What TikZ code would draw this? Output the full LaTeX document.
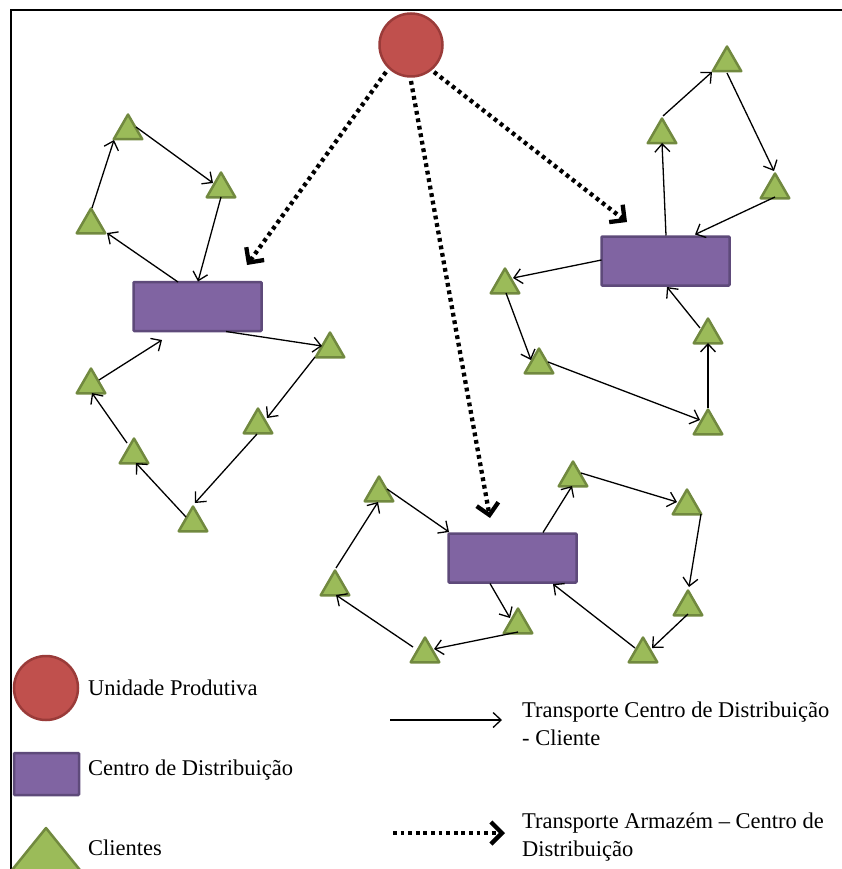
\documentclass[tikz,border=0pt]{standalone}
\usepackage{fontspec}
\setmainfont{Liberation Serif}
\usetikzlibrary{shapes.geometric,arrows.meta,calc}
\definecolor{pufill}{HTML}{C0504D}
\definecolor{puline}{HTML}{9A3B39}
\definecolor{cdfill}{HTML}{8064A2}
\definecolor{cdline}{HTML}{5E4A7A}
\definecolor{clfill}{HTML}{9BBB59}
\definecolor{clline}{HTML}{71893F}
\tikzset{
  pu/.style={circle, fill=pufill, draw=puline, line width=2.5pt, minimum size=63pt, inner sep=0pt},
  cd/.style={rectangle, fill=cdfill, draw=cdline, line width=2.5pt, minimum width=128pt, minimum height=49pt, inner sep=0pt, rounded corners=1pt},
  cl/.style={regular polygon, regular polygon sides=3, fill=clfill, draw=clline, line width=2.5pt, minimum size=33pt, inner sep=0pt, line join=round},
  tr/.style={line width=1.3pt, -{Straight Barb[length=8pt,width=15pt]}},
  arm/.style={line width=4.3pt, dash pattern=on 3.8pt off 3.8pt, -{Straight Barb[length=11pt,width=22pt]}},
  lbl/.style={anchor=west, inner sep=0pt, font=\fontsize{22.5}{28}\selectfont, align=left}
}
\begin{document}
\begin{tikzpicture}[x=1pt,y=-1pt]
\useasboundingbox (0,0) rectangle (841,869);
% frame
\draw[line width=2pt] (11,872) -- (11,10) -- (845,10);

% production unit
\node[pu] (pu) at (411,45) {};

% distribution centres
\node[cd] (lcd) at (197.5,306.5) {};
\node[cd] (rcd) at (665.5,261) {};
\node[cd] (bcd) at (512.5,558) {};

% left clients
\node[cl] (t1) at (128,131) {};
\node[cl] (t2) at (221,189) {};
\node[cl] (t3) at (91,225) {};
\node[cl] (t4) at (330,349) {};
\node[cl] (t5) at (91,385) {};
\node[cl] (t6) at (258,425) {};
\node[cl] (t7) at (134,455) {};
\node[cl] (t8) at (193,523) {};

% right clients
\node[cl] (r1) at (727,63) {};
\node[cl] (r2) at (662,135) {};
\node[cl] (r3) at (775,190) {};
\node[cl] (r4) at (505,285) {};
\node[cl] (r5) at (539,365) {};
\node[cl] (r6) at (708,335) {};
\node[cl] (r7) at (708,426) {};

% bottom clients
\node[cl] (b1) at (379,493) {};
\node[cl] (b2) at (335,587) {};
\node[cl] (b3) at (425,654) {};
\node[cl] (b4) at (518,625) {};
\node[cl] (b5) at (573,478) {};
\node[cl] (b6) at (687,506) {};
\node[cl] (b7) at (688,607) {};
\node[cl] (b8) at (643,654) {};

% left routes
\draw[tr] ($(lcd)+(-19.5,-24.5)$) -- ($(t3)+(16,8)$);
\draw[tr] ($(t3)+(1,-17)$) -- ($(t1)+(-14,9)$);
\draw[tr] ($(t1)+(8,-4)$) -- ($(t2)+(-8,-6)$);
\draw[tr] ($(t2)+(0,8)$) -- ($(lcd)+(0.5,-25)$);
\draw[tr] ($(lcd)+(28.5,25)$) -- ($(t4)+(-8,-3)$);
\draw[tr] ($(t4)+(-15,8)$) -- ($(t6)+(9,-7)$);
\draw[tr] ($(t6)+(-1,9)$) -- ($(t8)+(2,-20)$);
\draw[tr] ($(t8)+(-7,-6)$) -- ($(t7)+(2,8)$);
\draw[tr] ($(t7)+(-7,-12)$) -- ($(t5)+(1,8)$);
\draw[tr] ($(t5)+(8,-5)$) -- ($(lcd)+(-35.5,33.5)$);

% right routes
\draw[tr] ($(rcd)+(0.5,-25.5)$) -- ($(r2)+(0,8)$);
\draw[tr] ($(r2)+(1,-19)$) -- ($(r1)+(-15,9)$);
\draw[tr] ($(r1)+(0,10)$) -- ($(r3)+(-1,-19)$);
\draw[tr] ($(r3)+(0,7)$) -- ($(rcd)+(29.5,-26.5)$);
\draw[tr] ($(rcd)+(-64,-1)$) -- ($(r4)+(8,-7)$);
\draw[tr] ($(r4)+(1,8)$) -- ($(r5)+(-8,-5)$);
\draw[tr] ($(r5)+(9,-3)$) -- ($(r7)+(-8,-6)$);
\draw[tr] ($(r7)+(0,-18)$) -- ($(r6)+(0,8)$);
\draw[tr] ($(r6)+(-8,-7)$) -- ($(rcd)+(1.5,26)$);

% bottom routes
\draw[tr] ($(bcd)+(30.5,-25.5)$) -- ($(b5)+(-1,8)$);
\draw[tr] ($(b5)+(8,-5)$) -- ($(b6)+(-10,-4)$);
\draw[tr] ($(b6)+(14,8)$) -- ($(b7)+(1,-20)$);
\draw[tr] ($(b7)+(0,7)$) -- ($(b8)+(9,-6)$);
\draw[tr] ($(b8)+(-8,-6)$) -- ($(bcd)+(40.5,26)$);
\draw[tr] ($(bcd)+(-22.5,25.5)$) -- ($(b4)+(-8,-7)$);
\draw[tr] ($(b4)+(0,7)$) -- ($(b3)+(9,-5)$);
\draw[tr] ($(b3)+(-12,-7)$) -- ($(b2)+(1,8)$);
\draw[tr] ($(b2)+(1,-19)$) -- ($(b1)+(-1,9)$);
\draw[tr] ($(b1)+(8,-4)$) -- ($(bcd)+(-63.5,-26)$);

% warehouse transports
\draw[arm] ($(pu)+(-25,27)$) -- ($(lcd)+(49.5,-41.5)$);
\draw[arm] ($(pu)+(0,36)$) -- ($(bcd)+(-22.5,-40)$);
\draw[arm] ($(pu)+(23,27)$) -- ($(rcd)+(-38.5,-39)$);

% legend
\node[pu, minimum size=64pt] (lgpu) at (46,688) {};
\node[cd, minimum width=65pt, minimum height=42pt] (lgcd) at (46.5,774) {};
\draw[fill=clfill, draw=clline, line width=2.5pt, line join=round] (46,828) -- (84,875) -- (8,875) -- cycle;
\node[lbl] (lpu) at (88,688) {Unidade Produtiva};
\node[lbl] (lcdt) at (88,770) {Centro de Distribuição};
\node[lbl] (lclt) at (88,848) {Clientes};

\coordinate (la1) at (390,720);
\coordinate (la2) at (502,720);
\draw[tr] (la1) -- (la2);
\node[lbl] (ltr) at (522,724) {Transporte Centro de Distribuição\\- Cliente};

\coordinate (lb1) at (393,833);
\coordinate (lb2) at (505,833);
\draw[arm] (lb1) -- (lb2);
\node[lbl] (larm) at (522,837) {Transporte Armazém – Centro de\\Distribuição};
\end{tikzpicture}
\end{document}
